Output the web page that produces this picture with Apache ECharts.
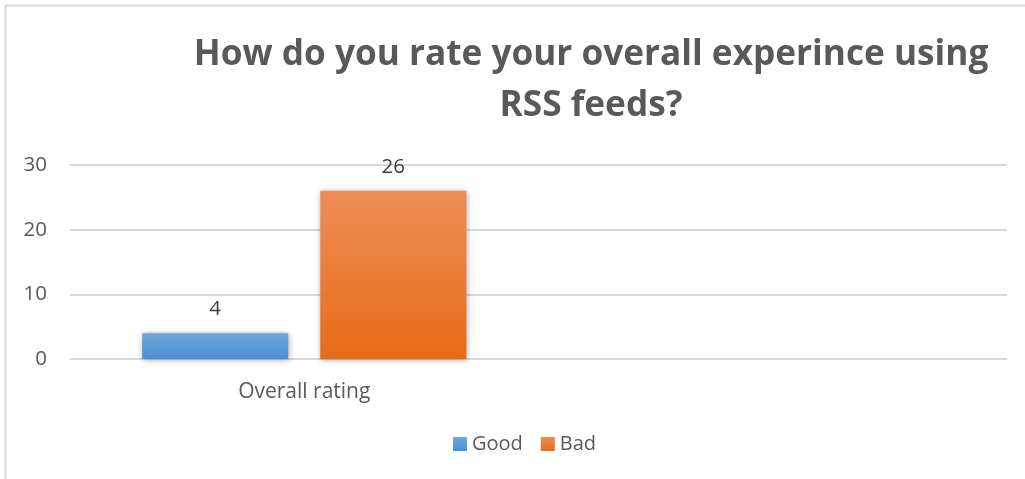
<!DOCTYPE html>
<html><head><meta charset="utf-8">
<script src="https://cdn.jsdelivr.net/npm/echarts@6/dist/echarts.min.js"></script>
<style>html,body{margin:0;padding:0;background:#fff}#c{width:1025px;height:479px}</style>
</head><body><div id="c"></div>
<script>
const titleText = 'How do you rate your overall experince using\nRSS feeds?';
const categories = ['Overall rating', ''];
const seriesNames = ['Good', 'Bad'];
const goodValues = [4, null];
const badValues = [26, null];
const yTicks = [0, 10, 20, 30];

const chart = echarts.init(document.getElementById('c'));
function grad(top, bottom) {
  return new echarts.graphic.LinearGradient(0, 0, 0, 1, [{offset: 0, color: top}, {offset: 1, color: bottom}]);
}
const labelStyle = {show: true, position: 'top', distance: 13, color: '#404040', fontSize: 20.5, fontFamily: 'Open Sans'};
chart.setOption({
  animation: false,
  graphic: [{type: 'rect', shape: {x: 5.5, y: 5.5, width: 1040, height: 490}, style: {fill: 'none', stroke: '#d9d9d9', lineWidth: 2}, z: -1}],
  title: {text: titleText, left: 586, textAlign: 'center', top: 24,
    textStyle: {fontFamily: 'Open Sans', fontWeight: 'bold', fontSize: 35.2, color: '#595959', lineHeight: 51}},
  legend: {data: seriesNames, bottom: 20, left: 448, itemWidth: 14, itemHeight: 14, itemGap: 18,
    icon: 'rect', textStyle: {fontFamily: 'Open Sans', fontSize: 20, color: '#595959'}},
  grid: {left: 70, right: 18, top: 165, bottom: 120},
  xAxis: {type: 'category', data: categories, axisTick: {show: false},
    axisLine: {lineStyle: {color: '#d9d9d9', width: 1}},
    axisLabel: {fontFamily: 'Open Sans', fontSize: 21, color: '#595959', margin: 23}},
  yAxis: {type: 'value', min: yTicks[0], max: yTicks[yTicks.length-1], interval: 10,
    axisLine: {show: false}, axisTick: {show: false},
    splitLine: {lineStyle: {color: '#d9d9d9', width: 2}},
    axisLabel: {fontFamily: 'Open Sans', fontSize: 20.5, color: '#595959', margin: 23}},
  series: [
    {name: seriesNames[0], type: 'bar', data: goodValues, barWidth: 146, barGap: '22%',
      itemStyle: {color: grad('#6fa8dd', '#4a8fd2'), shadowBlur: 6, shadowColor: 'rgba(0,0,0,0.35)', shadowOffsetX: 1, shadowOffsetY: 1},
      label: labelStyle},
    {name: seriesNames[1], type: 'bar', data: badValues, barWidth: 146,
      itemStyle: {color: grad('#f08c58', '#e66c17'), shadowBlur: 6, shadowColor: 'rgba(0,0,0,0.35)', shadowOffsetX: 1, shadowOffsetY: 1},
      label: labelStyle}
  ]
});
</script></body></html>
